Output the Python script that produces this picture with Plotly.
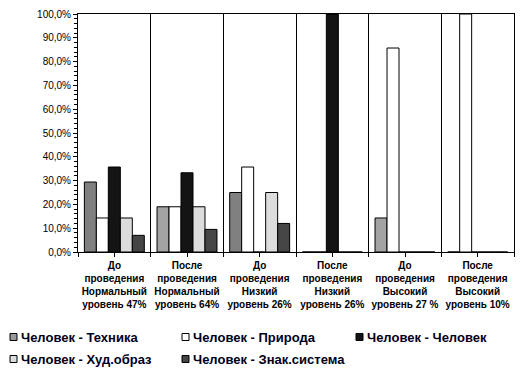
import plotly.graph_objects as go

categories = [
    "До<br>проведения<br>Нормальный<br>уровень 47%",
    "После<br>проведения<br>Нормальный<br>уровень 64%",
    "До<br>проведения<br>Низкий<br>уровень 26%",
    "После<br>проведения<br>Низкий<br>уровень 26%",
    "До<br>проведения<br>Высокий<br>уровень 27 %",
    "После<br>проведения<br>Высокий<br>уровень 10%",
]
series_names = [
    "Человек - Техника",
    "Человек - Природа",
    "Человек - Человек",
    "Человек - Худ.образ",
    "Человек - Знак.система",
]
tekhnika = [0.294, 0.19, 0.25, 0.0, 0.143, 0.0]
priroda = [0.143, 0.19, 0.357, 0.0, 0.857, 1.0]
chelovek = [0.357, 0.333, 0.0, 1.0, 0.0, 0.0]
khud = [0.143, 0.19, 0.25, 0.0, 0.0, 0.0]
znak = [0.07, 0.095, 0.12, 0.0, 0.0, 0.0]
series_values = [tekhnika, priroda, chelovek, khud, znak]

tekhnika_colors = ["#808080", "#a3a3a3", "#808080", "#a3a3a3", "#a3a3a3", "#a3a3a3"]
colors = [tekhnika_colors, "#ffffff", "#141414", "#dcdcdc", "#454545"]
legend_colors = ["#999999", "#ffffff", "#141414", "#dcdcdc", "#454545"]

# page body has an 8px margin, so the figure is drawn 8px in from the window corner
OFF = 8
W, H = 529 - OFF, 373 - OFF
L, T = 78 - OFF, 14 - OFF
R = W - (514 - OFF)
B = H - (252 - OFF)
PW, PH = W - L - R, H - T - B

xs = list(range(len(categories)))
fig = go.Figure()
for name, vals, col in zip(series_names, series_values, colors):
    fig.add_trace(go.Bar(
        x=xs, y=vals, name=name, showlegend=False,
        marker=dict(color=col, line=dict(color="#000000", width=1)),
    ))

def px_x(p):
    return (p - OFF - L) / PW

def px_y(p):
    return (H - B - (p - OFF)) / PH

# manual legend (positions in window pixels)
legend_pos = [(10, 337), (182, 337), (356, 337), (10, 359), (182, 359)]
shapes = []
annotations = []
for name, col, (sx, sy) in zip(series_names, legend_colors, legend_pos):
    shapes.append(dict(
        type="rect", xref="paper", yref="paper",
        x0=px_x(sx), x1=px_x(sx + 7), y0=px_y(sy - 3.5), y1=px_y(sy + 3.5),
        fillcolor=col, line=dict(color="#000000", width=1),
    ))
    annotations.append(dict(
        xref="paper", yref="paper", x=px_x(sx + 9), y=px_y(sy),
        xanchor="left", yanchor="middle", showarrow=False, text=name,
        font=dict(family="Liberation Sans, Arial", size=13, color="#00001a", weight="bold"),
    ))

fig.update_layout(
    width=W, height=H,
    margin=dict(l=L, r=R, t=T, b=B, autoexpand=False),
    paper_bgcolor="#ffffff", plot_bgcolor="#ffffff",
    barmode="group", bargap=0.175, bargroupgap=0,
    separators=", ",
    font=dict(family="Liberation Sans, Arial", color="#000000"),
    xaxis=dict(
        range=[-0.5, len(categories) - 0.5], automargin=False,
        tickmode="array", tickvals=xs, ticktext=categories,
        ticks="outside", ticklen=4, tickcolor="#000000",
        tickfont=dict(size=10, weight="bold", color="#000000"),
        showline=True, linecolor="#000000", linewidth=1, mirror=True,
        showgrid=False, zeroline=False,
        minor=dict(tick0=-0.5, dtick=1, ticks="outside", ticklen=4,
                   tickcolor="#000000", showgrid=True, gridcolor="#000000", gridwidth=1),
    ),
    yaxis=dict(
        range=[0, 1], dtick=0.1, tickformat=".1%", automargin=False,
        ticks="outside", ticklen=4, tickcolor="#000000",
        tickfont=dict(size=10, color="#000000"),
        showline=True, linecolor="#000000", linewidth=1, mirror=True,
        showgrid=False, zeroline=False,
        minor=dict(dtick=0.02, ticks="outside", ticklen=3, tickcolor="#000000"),
    ),
    yaxis2=dict(
        overlaying="y", side="left", range=[0, 1], dtick=0.1, automargin=False,
        ticks="inside", ticklen=4, tickcolor="#000000",
        showticklabels=False, showgrid=False, zeroline=False, showline=False,
        minor=dict(dtick=0.02, ticks="inside", ticklen=3, tickcolor="#000000"),
    ),
    shapes=shapes,
    annotations=annotations,
)

fig.write_html("out.html")
